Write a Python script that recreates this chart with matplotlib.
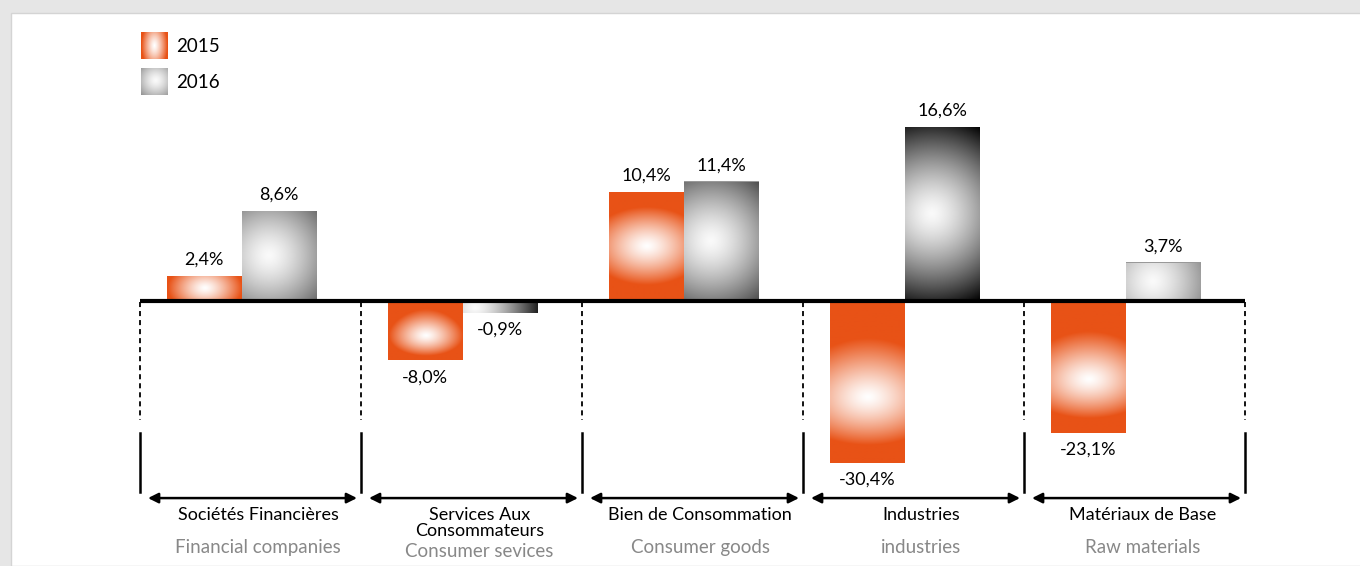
import numpy as np
import matplotlib
matplotlib.use('Agg')
import matplotlib.pyplot as plt
from matplotlib.patches import Rectangle
from matplotlib.transforms import blended_transform_factory

plt.rcParams['font.family'] = ['Lato', 'DejaVu Sans']

categories_fr = ['Sociétés Financières', 'Services Aux\nConsommateurs', 'Bien de Consommation',
                 'Industries', 'Matériaux de Base']
categories_en = ['Financial companies', 'Consumer sevices', 'Consumer goods', 'industries', 'Raw materials']
series_names = ['2015', '2016']
values_2015 = [2.4, -8.0, 10.4, -30.4, -23.1]
values_2016 = [8.6, -0.9, 11.4, 16.6, 3.7]

ORANGE = np.array([232, 82, 22]) / 255.0
W, H = 1360, 566
px_x = 221.0   # pixels per category
px_y = 10.5    # pixels per percent (positive side)
NEG_K = 12.5 / px_y


# the original chart is not to scale: negatives are squeezed
def fwd(v):
    v = np.asarray(v, dtype=float)
    return np.where(v >= 0, v, -NEG_K * np.abs(v) ** 0.75)


def inv(v):
    v = np.asarray(v, dtype=float)
    return np.where(v >= 0, v, -(np.abs(v) / NEG_K) ** (1 / 0.75))


def make_grad(w, h, kind, cx=0.35, cy=0.5, R=100.0):
    nx, ny = max(int(w), 2), max(int(h), 2)
    X, Y = np.meshgrid(np.linspace(0, w, nx), np.linspace(0, h, ny))
    if kind == 'orange':
        dx = (X - w / 2) / (w / 2)
        dy = (Y - h / 2) / (0.36 * max(h, 70))
        fx = min(1.0, (60.0 / max(h, 1)) ** 1.5)
        r = np.sqrt(fx * dx ** 2 + dy ** 2)
        t = np.clip(r, 0, 1) ** 1.3
        img = (1 - t)[..., None] * np.ones(3) + t[..., None] * ORANGE
    else:
        d = np.sqrt((X - cx * w) ** 2 + (Y - cy * h) ** 2) / R
        lev = 0.98 * (1 - np.clip(d, 0, 1) ** 1.4)
        img = np.repeat(lev[..., None], 3, axis=2)
    return img


fig = plt.figure(figsize=(W / 100, H / 100), dpi=100, facecolor='#e6e6e6')
fig.patches.append(Rectangle((11 / W, 0), 1, (H - 13) / H, transform=fig.transFigure,
                             facecolor='white', edgecolor='#d4d4d4', lw=1, zorder=-5))

ax = fig.add_axes([0, 0, 1, 1])
ax.set_axis_off()
ax.set_yscale('function', functions=(fwd, inv))
ax.set_xlim(-0.46 - 140 / px_x, -0.46 + (W - 140) / px_x)
ax.set_ylim(float(inv(-265 / px_y)), 301 / px_y)

x = np.arange(len(categories_fr))
bw = 0.34
b15 = ax.bar(x - bw / 2, values_2015, bw, color=ORANGE, zorder=2)
b16 = ax.bar(x + bw / 2, values_2016, bw, color='#999999', zorder=2)

for bars, kind in ((b15, 'orange'), (b16, 'gray')):
    for b in bars:
        x0, y0 = b.get_x(), b.get_y()
        x1, y1 = x0 + b.get_width(), y0 + b.get_height()
        (p0x, p0y), (p1x, p1y) = ax.transData.transform([(x0, y0), (x1, y1)])
        hpx = abs(p1y - p0y)
        if kind == 'gray' and hpx < 30:
            img = make_grad(abs(p1x - p0x), hpx, kind, cx=0.15, R=70.0)
        else:
            img = make_grad(abs(p1x - p0x), hpx, kind)
        im = ax.imshow(img, extent=(x0, x1, min(y0, y1), max(y0, y1)), origin='upper',
                       aspect='auto', interpolation='bilinear', zorder=3)
        im.set_clip_path(b)

for bars, vals in ((b15, values_2015), (b16, values_2016)):
    for b, v in zip(bars, vals):
        xc = b.get_x() + b.get_width() / 2
        off = 16 if v >= 0 else -17
        ax.annotate(f'{v:.1f}%'.replace('.', ','), (xc, v), xytext=(0, off),
                    textcoords='offset pixels', ha='center', va='center', fontsize=13, zorder=5)

bounds = np.arange(len(categories_fr) + 1) - 0.46
ax.plot([bounds[0], bounds[-1]], [0, 0], color='black', lw=3, zorder=4, solid_capstyle='butt')

trans = blended_transform_factory(ax.transData, ax.transAxes)
for b in bounds:
    ax.plot([b, b], [0.466, 0.258], transform=trans, color='black', lw=1.3, ls=(0, (2.8, 2.2)), zorder=1)
    ax.plot([b, b], [0.235, 0.131], transform=trans, color='black', lw=1.8, zorder=1)

for i in range(len(categories_fr)):
    ax.annotate('', xy=(bounds[i + 1] - 4 / px_x, 0.12), xytext=(bounds[i] + 8 / px_x, 0.12),
                xycoords=trans, textcoords=trans,
                arrowprops=dict(arrowstyle='<|-|>,head_length=0.6,head_width=0.3', color='black',
                                lw=1.8, shrinkA=0, shrinkB=0))
    xc = (bounds[i] + bounds[i + 1]) / 2 + 0.035
    lines = categories_fr[i].split('\n')
    for k, line in enumerate(lines):
        ax.text(xc, 0.090 - 0.029 * k, line, transform=trans, ha='center', va='center', fontsize=13)
    y_en = 0.0265 if len(lines) > 1 else 0.032
    ax.text(xc, y_en, categories_en[i], transform=trans, ha='center', va='center',
            fontsize=13.5, color='#888888')

# legend swatches
for j, (name, kind, top) in enumerate(zip(series_names, ['orange', 'gray'], [32, 68])):
    sw = fig.add_axes([141 / W, (H - top - 27) / H, 27 / W, 27 / H])
    sw.imshow(make_grad(27, 27, kind, cx=0.55, cy=0.45, R=40.0), aspect='auto', interpolation='bilinear')
    sw.set_axis_off()
    fig.text(176 / W, (H - top - 14) / H, name, ha='left', va='center', fontsize=13.5)

fig.savefig('out.png', dpi=100, facecolor=fig.get_facecolor())
